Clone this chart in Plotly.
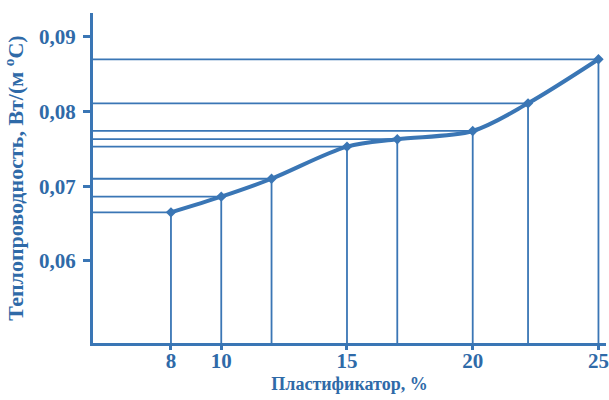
import plotly.graph_objects as go

# Plasticizer content, % and thermal conductivity, W/(m·°C)
plasticizer = [8, 10, 12, 15, 17, 20, 22.2, 25]
conductivity = [0.0665, 0.0686, 0.0710, 0.0753, 0.0763, 0.0774, 0.0811, 0.0870]

x_ticks = [8, 10, 15, 20, 25]
x_tick_text = ["8", "10", "15", "20", "25"]
y_ticks = [0.06, 0.07, 0.08, 0.09]
y_tick_text = ["0,06", "0,07", "0,08", "0,09"]

x_range = [4.9, 25.3]
y_range = [0.0490, 0.0932]

LINE = "#3a76b5"
TEXT = "#2f6aa8"
FONT = "Liberation Serif"

fig = go.Figure()

# Drop lines from each measured point to both axes
for xv, yv in zip(plasticizer, conductivity):
    fig.add_trace(go.Scatter(
        x=[x_range[0], xv, xv], y=[yv, yv, y_range[0]],
        mode="lines", line=dict(color=LINE, width=1.8),
        hoverinfo="skip", showlegend=False,
    ))

# Smoothed curve with point markers
fig.add_trace(go.Scatter(
    x=plasticizer, y=conductivity,
    mode="lines+markers",
    line=dict(color=LINE, width=4, shape="spline", smoothing=0.9),
    marker=dict(symbol="diamond", size=8, color=LINE),
    showlegend=False,
))

fig.update_layout(
    width=609, height=400,
    margin=dict(l=93, r=0, t=13, b=57),
    paper_bgcolor="white", plot_bgcolor="white",
    font=dict(family=FONT, color=TEXT),
    xaxis=dict(
        range=x_range, showgrid=False, zeroline=False,
        showline=True, linecolor=LINE, linewidth=3,
        tickmode="array", tickvals=x_ticks, ticktext=x_tick_text,
        ticks="outside", ticklen=4, tickwidth=3, tickcolor=LINE,
        ticklabelstandoff=-7, ticklabeloverflow="allow",
        tickfont=dict(family=FONT, size=21, color=TEXT, weight="bold"),
        title=dict(text="Пластификатор, %", standoff=6,
                   font=dict(family=FONT, size=18, color=TEXT, weight="bold")),
    ),
    yaxis=dict(
        range=y_range, showgrid=False, zeroline=False,
        showline=True, linecolor=LINE, linewidth=3,
        tickmode="array", tickvals=y_ticks, ticktext=y_tick_text,
        ticks="outside", ticklen=7, tickwidth=3, tickcolor=LINE,
        ticklabelstandoff=3,
        tickfont=dict(family=FONT, size=21, color=TEXT, weight="bold"),
        title=dict(text="Теплопроводность, Вт/(м <sup>o</sup>С)", standoff=10,
                   font=dict(family=FONT, size=22, color=TEXT, weight="bold")),
    ),
)

fig.write_html("out.html")
